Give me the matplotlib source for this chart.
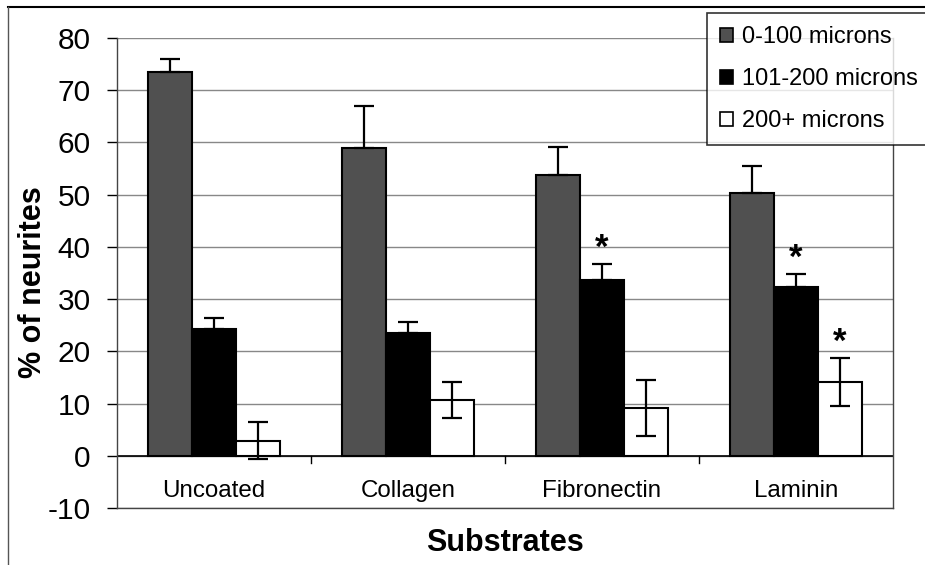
import matplotlib
matplotlib.use('Agg')
import matplotlib.pyplot as plt
import numpy as np
from matplotlib import lines, patches

plt.rcParams['font.family'] = ['Liberation Sans', 'DejaVu Sans']
plt.rcParams['axes.unicode_minus'] = False

substrates = ['Uncoated', 'Collagen', 'Fibronectin', 'Laminin']
series = ['0-100 microns', '101-200 microns', '200+ microns']

short = [73.4, 59.0, 53.8, 50.4]
short_err = [2.6, 8.0, 5.4, 5.0]
medium = [24.3, 23.6, 33.7, 32.4]
medium_err = [2.0, 2.1, 3.1, 2.5]
long = [2.9, 10.7, 9.2, 14.2]
long_err = [3.5, 3.4, 5.4, 4.6]

# which bars get a significance star (series index, substrate index)
stars = [(1, 2), (1, 3), (2, 3)]

face = ['#505050', 'black', 'white']

fig = plt.figure(figsize=(9.25, 5.65), dpi=100)
ax = fig.add_axes([117 / 925, 1 - 508 / 565, (893 - 117) / 925, (508 - 38) / 565])

x = np.arange(len(substrates))
w = 0.227
vals = [short, medium, long]
errs = [short_err, medium_err, long_err]

for i, (v, e) in enumerate(zip(vals, errs)):
    pos = x + (i - 1) * w
    ax.bar(pos, v, w, color=face[i], edgecolor='black', linewidth=1.5, zorder=3)
    if i < 2:
        yerr = [np.zeros(len(e)), e]
    else:
        yerr = e
    ax.errorbar(pos, v, yerr=yerr, fmt='none', ecolor='black', elinewidth=1.6,
                capsize=7, capthick=1.6, zorder=4)

for si, ci in stars:
    top = vals[si][ci] + errs[si][ci]
    ax.text(x[ci] + (si - 1) * w, top - 0.2, '*', ha='center', va='bottom',
            fontsize=25, fontweight='bold', zorder=5)

ax.set_xlim(-0.5, len(substrates) - 0.5)
ax.set_ylim(-10, 80)
ax.set_yticks(np.arange(-10, 81, 10))
ax.tick_params(axis='y', labelsize=21.5, direction='out', length=7, width=1, pad=12)
ax.set_xticks([])
ax.yaxis.grid(True, color='#888888', linewidth=1, zorder=0)
ax.set_axisbelow(True)

# category axis sits at zero, labels lower down
ax.axhline(0, color='black', linewidth=1.2, zorder=2)
for b in np.arange(0.5, len(substrates) - 0.5, 1):
    ax.plot([b, b], [0, -1.3], color='black', linewidth=1, zorder=2)
for xi, name in zip(x, substrates):
    ax.text(xi, -6.7, name, ha='center', va='center', fontsize=17.4)

ax.spines['top'].set_visible(False)
for s in ['left', 'right', 'bottom']:
    ax.spines[s].set_color('#444444')
    ax.spines[s].set_linewidth(1)

fig.text(33 / 925, 1 - 282 / 565, '% of neurites', rotation=90, ha='center',
         va='center', fontsize=22, fontweight='bold')
fig.text(505 / 925, 1 - 543 / 565, 'Substrates', ha='center', va='center',
         fontsize=22, fontweight='bold')

handles = [patches.Patch(facecolor=face[i], edgecolor='black', linewidth=1.2, label=series[i])
           for i in range(3)]
leg = fig.legend(handles=handles, loc='upper left', bbox_to_anchor=(707 / 925, 1 - 13 / 565),
                 fontsize=17, frameon=True, fancybox=False, handlelength=0.55,
                 handleheight=0.55, handletextpad=0.4, labelspacing=0.85,
                 borderpad=0.55, borderaxespad=0)
leg.get_frame().set_edgecolor('black')
leg.get_frame().set_linewidth(1.2)

# outer chart border (top and left edges visible in the scan)
fig.add_artist(lines.Line2D([8 / 925, 1], [1 - 7 / 565] * 2, color='black', linewidth=1.5,
                            transform=fig.transFigure))
fig.add_artist(lines.Line2D([8 / 925] * 2, [0, 1 - 7 / 565], color='#555555', linewidth=1,
                            transform=fig.transFigure))

fig.savefig('out.png', dpi=100)
